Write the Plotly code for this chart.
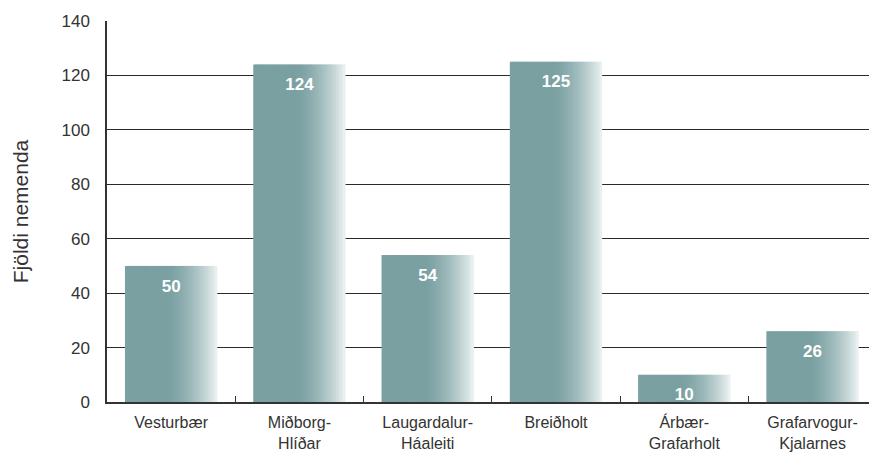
import plotly.graph_objects as go

# Number of students per district
districts = ['Vesturbær', 'Miðborg-<br>Hlíðar', 'Laugardalur-<br>Háaleiti', 'Breiðholt',
             'Árbær-<br>Grafarholt', 'Grafarvogur-<br>Kjalarnes']
students = [50, 124, 54, 125, 10, 26]
y_ticks = [0, 20, 40, 60, 80, 100, 120, 140]

FONT = 'Liberation Sans, Arial, sans-serif'
TEAL = (122, 160, 162)
PALE = (236, 242, 242)
BAR_W = 0.72
N_SLICES = 48


def slice_color(t):
    """Solid teal on the left part of the bar, fading to pale on the right."""
    if t < 0.45:
        s = 0.0
    else:
        s = ((t - 0.45) / 0.55) ** 1.6
    r, g, b = (round(a + (c - a) * s) for a, c in zip(TEAL, PALE))
    return f'rgb({r},{g},{b})'


fig = go.Figure()

# gradient bars built from thin overlapping slices
step = BAR_W / N_SLICES
for i in range(N_SLICES):
    fig.add_trace(go.Bar(
        x=districts,
        y=students,
        offset=-BAR_W / 2 + i * step,
        width=step * 1.6 if i < N_SLICES - 1 else step,
        marker=dict(color=slice_color((i + 0.5) / N_SLICES), line=dict(width=0)),
        hoverinfo='skip',
        showlegend=False
    ))

# value labels inside the top of each bar
fig.add_trace(go.Scatter(
    x=districts,
    y=students,
    mode='markers+text',
    text=[str(v) for v in students],
    textposition='bottom center',
    textfont=dict(family=FONT, size=17, color='white', weight='bold'),
    marker=dict(size=19, opacity=0),
    hoverinfo='skip',
    showlegend=False
))

fig.update_layout(
    width=869,
    height=454,
    barmode='overlay',
    plot_bgcolor='white',
    paper_bgcolor='white',
    margin=dict(l=107, r=0, t=21, b=52),
    font=dict(family=FONT, color='#333333'),
    xaxis=dict(
        range=[-0.5, 5.44],
        showgrid=False,
        showline=True,
        linecolor='#333333',
        linewidth=1.5,
        ticks='inside',
        tickson='boundaries',
        ticklen=6,
        tickcolor='#333333',
        ticklabelstandoff=5,
        tickfont=dict(size=16, color='#333333'),
    ),
    yaxis=dict(
        range=[0, 140],
        tickvals=y_ticks,
        showgrid=True,
        gridcolor='#2a2a2a',
        gridwidth=1,
        zeroline=False,
        showline=True,
        linecolor='#333333',
        linewidth=1.5,
        ticks='',
        ticklabelstandoff=12,
        tickfont=dict(size=17, color='#333333'),
        title=dict(text='Fjöldi nemenda', font=dict(size=21, color='#333333'), standoff=27),
    ),
)

# drop the default page margin so the figure fills the window exactly
fig.write_html('out.html', config={'displayModeBar': False},
               post_script="document.body.style.margin='0';")
